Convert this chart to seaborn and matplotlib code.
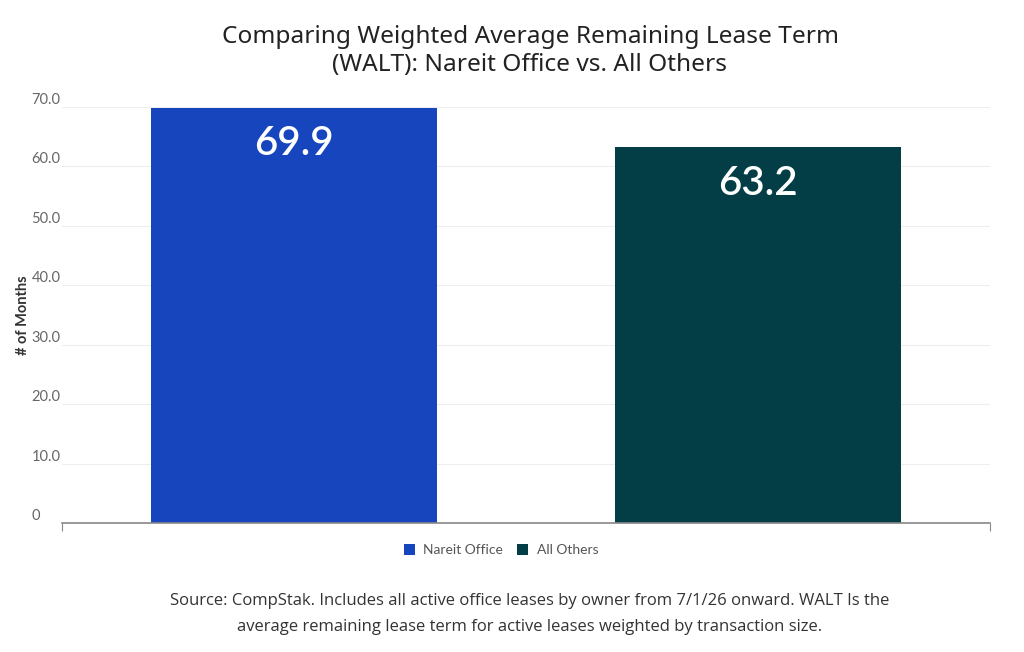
import matplotlib
matplotlib.use("Agg")
import matplotlib.pyplot as plt
import seaborn as sns
import pandas as pd

# data
categories = ['Nareit Office', 'All Others']
walt_months = [69.9, 63.2]
bar_colors = ['#1745BE', '#033E46']
y_ticks = [0, 10, 20, 30, 40, 50, 60, 70]
y_tick_labels = ['0', '10.0', '20.0', '30.0', '40.0', '50.0', '60.0', '70.0']

sns.set_style('white')
plt.rcParams['font.family'] = ['Lato', 'DejaVu Sans']

df = pd.DataFrame({'group': categories, 'months': walt_months})

fig = plt.figure(figsize=(10.24, 6.52), dpi=100)
ax = fig.add_axes([62 / 1024, 1 - 523 / 652, 928 / 1024, 416 / 652])

sns.barplot(data=df, x='group', y='months', hue='group', palette=bar_colors,
            width=0.617, saturation=1, legend=True, ax=ax, edgecolor='none')

ax.set_xlim(-0.5, 1.5)
ax.set_ylim(0, 70)

# value labels inside bars
for p, v in zip(ax.patches, walt_months):
    ax.annotate(f'{v:.1f}', (p.get_x() + p.get_width() / 2, p.get_height()),
                xytext=(0, -26), textcoords='offset points', ha='center', va='center',
                color='white', fontsize=29, fontweight='semibold')

# grid / axes
ax.set_yticks(y_ticks)
ax.set_yticklabels(y_tick_labels)
ax.yaxis.grid(True, color='#eeeeee', linewidth=0.8)
ax.set_axisbelow(True)
ax.tick_params(axis='y', length=0, pad=22, labelsize=10.5, labelcolor='#666666')
for lbl in ax.get_yticklabels():
    lbl.set_horizontalalignment('left')
    lbl.set_verticalalignment('bottom')

ax.set_xticks([-0.5, 1.5])
ax.set_xticklabels(['', ''])
ax.tick_params(axis='x', bottom=True, length=6, width=0.8, color='#888888', direction='out')
ax.set_xlabel('')

for s in ['top', 'right', 'left']:
    ax.spines[s].set_visible(False)
ax.spines['bottom'].set_color('#888888')
ax.spines['bottom'].set_linewidth(1.2)

ax.set_ylabel('# of Months', fontsize=10.5, fontweight='bold', color='#333333')
ax.yaxis.set_label_coords(-0.034, 0.5)

# legend
handles, labels = ax.get_legend_handles_labels()
ax.legend(handles, labels, loc='center', bbox_to_anchor=(501 / 1024, 1 - 550 / 652),
          bbox_transform=fig.transFigure, ncol=2, frameon=False, fontsize=10,
          handlelength=0.8, handleheight=0.8, handletextpad=0.6, columnspacing=1.0,
          labelcolor='#555555')

fig.text(530 / 1024, 1 - 51 / 652,
         'Comparing Weighted Average Remaining Lease Term\n(WALT): Nareit Office vs. All Others',
         ha='center', va='center', fontsize=17.6, color='#222222', linespacing=1.2,
         family=['Noto Sans', 'DejaVu Sans'])

fig.text(530 / 1024, 1 - 614 / 652,
         'Source: CompStak. Includes all active office leases by owner from 7/1/26 onward. WALT Is the\n'
         'average remaining lease term for active leases weighted by transaction size.',
         ha='center', va='center', fontsize=12, color='#333333', linespacing=1.9,
         family=['Open Sans', 'DejaVu Sans'])

fig.savefig('out.png', dpi=100)
